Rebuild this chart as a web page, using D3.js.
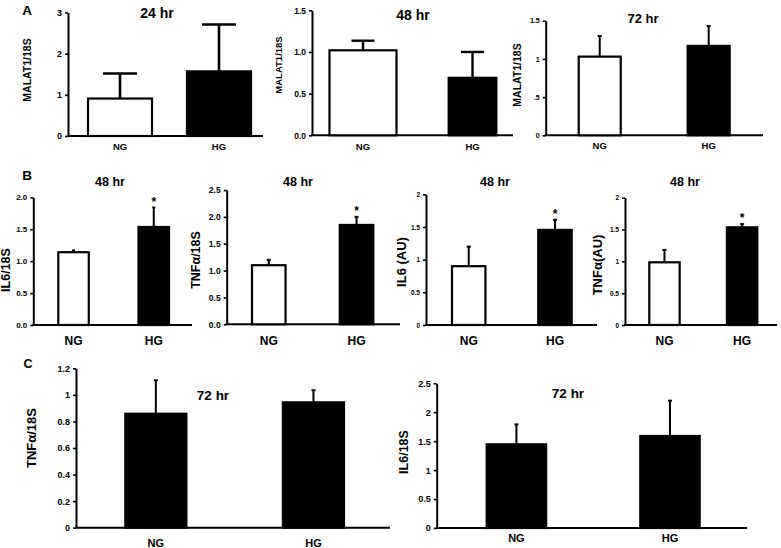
<!DOCTYPE html>
<html><head><meta charset="utf-8">
<script src="https://cdn.jsdelivr.net/npm/d3@7"></script>
<style>
body{margin:0;background:#fff}
svg{display:block}
text{font-family:"Liberation Sans",Arial,Helvetica,sans-serif;font-weight:bold;fill:#000}
</style>
</head><body>
<svg id="chart" width="781" height="548"></svg>
<script>
// ---------- DATA ----------
const groups = ["NG", "HG"];
const panelTitles = ["24 hr", "48 hr", "72 hr", "48 hr", "48 hr", "48 hr", "48 hr", "72 hr", "72 hr"];
const yLabels = ["MALAT1/18S", "MALAT1/18S", "MALAT1/18S", "IL6/18S", "TNFα/18S", "IL6 (AU)", "TNFα(AU)", "TNFα/18S", "IL6/18S"];
const meanValues = [
  [0.91, 1.57], [1.02, 0.69], [1.03, 1.17],
  [1.14, 1.535], [1.10, 1.85], [0.90, 1.455], [0.985, 1.535],
  [0.858, 0.944], [1.446, 1.59]
];
const errorValues = [
  [0.61, 1.14], [0.115, 0.31], [0.27, 0.26],
  [0.03, 0.305], [0.10, 0.15], [0.30, 0.155], [0.195, 0.05],
  [0.252, 0.091], [0.344, 0.61]
];
const significant = [
  [false, false], [false, false], [false, false],
  [false, true], [false, true], [false, true], [false, true],
  [false, false], [false, false]
];
const hollowNG = [true, true, true, true, true, true, true, false, false];
const yMaxValues = [3, 1.5, 1.5, 2, 2.5, 2, 2, 1.2, 2.5];
const tickValues = [
  [0, 1, 2, 3], [0, 0.5, 1, 1.5], [0, 0.5, 1, 1.5],
  [0, 0.5, 1, 1.5, 2], [0, 0.5, 1, 1.5, 2, 2.5], [0, 0.5, 1, 1.5, 2], [0, 0.5, 1, 1.5, 2],
  [0, 0.2, 0.4, 0.6, 0.8, 1, 1.2], [0, 0.5, 1, 1.5, 2, 2.5]
];
const tickLabels = [
  ["0", "1", "2", "3"], ["0.0", "0.5", "1.0", "1.5"], ["0", ".5", "1", "1.5"],
  ["0.0", "0.5", "1.0", "1.5", "2.0"], ["0.0", "0.5", "1.0", "1.5", "2.0", "2.5"],
  ["0", "0.5", "1", "1.5", "2"], ["0", "0.5", "1", "1.5", "2"],
  ["0", "0.2", "0.4", "0.6", "0.8", "1", "1.2"], ["0", "0.5", "1", "1.5", "2", "2.5"]
];
const panelLetters = ["A", "B", "C"];

// ---------- LAYOUT (pixels / styles) ----------
const layout = [
  {x0:68, x1:263, yt:12.5, yb:136, br:[87,252], pad:0.333, wf:[1,1], cap:34, ew:2.6,
   tt:[157,18,14], yl:[28,70,10.5], xlY:150, xlS:9.5, tS:9},
  {x0:312, x1:513, yt:10.3, yb:135.3, br:[328.5,507], pad:0.37, wf:[1,0.72], cap:23, ew:2.4,
   tt:[413,20,14], yl:[279,65,9.5], xlY:150, xlS:9.5, tS:8.5},
  {x0:545.7, x1:763, yt:20.7, yb:135.3, br:[577.7,730.7], pad:0.596, wf:[1,1], cap:4, ew:2,
   tt:[643,22.5,13], yl:[518,75,10.5], xlY:149, xlS:9.5, tS:7},
  {x0:33.3, x1:192, yt:197.3, yb:325, br:[57.3,170], pad:0.595, wf:[1,1], cap:3, ew:2,
   tt:[110,186,12.5], yl:[7,270,12.5], xlY:345, xlS:12, tS:8},
  {x0:226.7, x1:400, yt:190, yb:324.3, br:[251,374.3], pad:0.595, wf:[1,1], cap:4, ew:2,
   tt:[298,186,12.5], yl:[197,260,12.5], xlY:345, xlS:12, tS:8.5},
  {x0:426, x1:597, yt:194.3, yb:325, br:[451,572.7], pad:0.589, wf:[1,1], cap:4, ew:2,
   tt:[495,186,12.5], yl:[403,262,13], xlY:345, xlS:12, tS:6.5},
  {x0:625, x1:777, yt:197.7, yb:325, br:[648.3,758.3], pad:0.583, wf:[1,1], cap:4, ew:2,
   tt:[685,186,12.5], yl:[599,265,13], xlY:345, xlS:12, tS:6.5},
  {x0:76, x1:390, yt:368.3, yb:527.7, br:[124.3,345], pad:0.6, wf:[1,1], cap:4, ew:2,
   tt:[213,400,13.5], yl:[33,438,13], xlY:547, xlS:11, tS:9},
  {x0:436.7, x1:747, yt:383.3, yb:528, br:[485.7,700.7], pad:0.6, wf:[1,1], cap:4, ew:2,
   tt:[568,398,13.5], yl:[405,452,12.5], xlY:542, xlS:11, tS:9}
];
const letterPos = [[27,15,13.5],[27,180,13.5],[28,368,12.5]];

// ---------- DRAW ----------
const svg = d3.select("#chart");

panelLetters.forEach((L, i) => {
  svg.append("text").attr("x", letterPos[i][0]).attr("y", letterPos[i][1])
    .attr("text-anchor", "middle").attr("font-size", letterPos[i][2]).text(L);
});

layout.forEach((p, i) => {
  const g = svg.append("g");
  const y = d3.scaleLinear().domain([0, yMaxValues[i]]).range([p.yb, p.yt]);
  const x = d3.scaleBand().domain(groups).range(p.br).paddingInner(p.pad).paddingOuter(0);

  // y axis
  const yAxis = d3.axisLeft(y).tickValues(tickValues[i])
    .tickFormat((d, k) => tickLabels[i][k]).tickSize(3).tickSizeOuter(0).tickPadding(3);
  const ya = g.append("g").attr("transform", `translate(${p.x0},0)`).call(yAxis);
  ya.select(".domain").attr("stroke", "#000").attr("stroke-width", 2);
  ya.selectAll(".tick line").attr("stroke", "#000").attr("stroke-width", 1.6);
  ya.selectAll(".tick text").attr("font-size", p.tS)
    .style("font-family", '"Liberation Sans",Arial,sans-serif').style("font-weight", "bold");

  // x axis line
  g.append("line").attr("x1", p.x0 - 1).attr("x2", p.x1).attr("y1", p.yb).attr("y2", p.yb)
    .attr("stroke", "#000").attr("stroke-width", 2);

  const rows = groups.map((gName, k) => ({
    g: gName, k, m: meanValues[i][k], e: errorValues[i][k], s: significant[i][k]
  }));

  const bw = x.bandwidth();
  const cx = d => x(d.g) + bw / 2;
  const w = d => bw * p.wf[d.k];

  // error bars (upper)
  g.selectAll(".err").data(rows).enter().append("line")
    .attr("x1", cx).attr("x2", cx)
    .attr("y1", d => y(d.m)).attr("y2", d => y(d.m + d.e))
    .attr("stroke", "#000").attr("stroke-width", p.ew);
  g.selectAll(".cap").data(rows).enter().append("line")
    .attr("x1", d => cx(d) - p.cap / 2).attr("x2", d => cx(d) + p.cap / 2)
    .attr("y1", d => y(d.m + d.e)).attr("y2", d => y(d.m + d.e))
    .attr("stroke", "#000").attr("stroke-width", p.ew);

  // bars
  g.selectAll(".bar").data(rows).enter().append("rect")
    .attr("x", d => cx(d) - w(d) / 2 + 1)
    .attr("width", d => w(d) - 2)
    .attr("y", d => y(d.m))
    .attr("height", d => y(0) - y(d.m))
    .attr("fill", d => (d.k === 0 && hollowNG[i]) ? "#fff" : "#000")
    .attr("stroke", "#000").attr("stroke-width", 2.2);

  // significance stars
  g.selectAll(".star").data(rows.filter(d => d.s)).enter().append("text")
    .attr("x", cx).attr("y", d => y(d.m + d.e) - 2)
    .attr("text-anchor", "middle").attr("font-size", 12).text("*");

  // x category labels
  g.selectAll(".xl").data(rows).enter().append("text")
    .attr("x", cx).attr("y", p.xlY).attr("text-anchor", "middle")
    .attr("font-size", p.xlS).text(d => d.g);

  // title
  g.append("text").attr("x", p.tt[0]).attr("y", p.tt[1]).attr("text-anchor", "middle")
    .attr("font-size", p.tt[2]).text(panelTitles[i]);

  // y label
  g.append("text").attr("transform", `translate(${p.yl[0]},${p.yl[1]}) rotate(-90)`)
    .attr("text-anchor", "middle").attr("dominant-baseline", "middle")
    .attr("font-size", p.yl[2]).text(yLabels[i]);
});
</script>
</body></html>
